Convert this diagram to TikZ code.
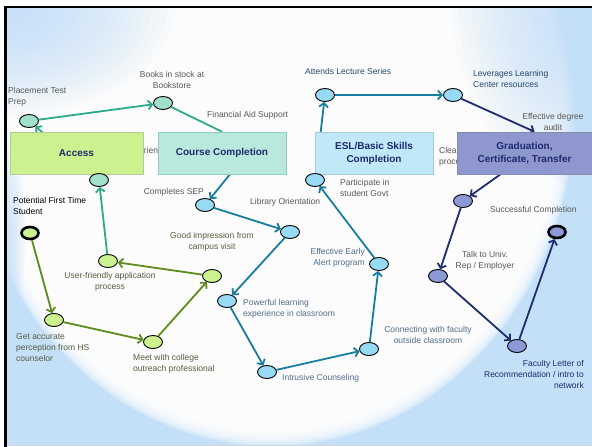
\documentclass[tikz,border=0pt]{standalone}
\usepackage{fontspec}
\setmainfont{Liberation Sans}
\usetikzlibrary{shapes.geometric,arrows.meta}
\definecolor{bgblue}{RGB}{196,224,248}
\definecolor{grnfill}{RGB}{204,242,143}
\definecolor{mintfill}{RGB}{160,224,204}
\definecolor{bluefill}{RGB}{150,218,244}
\definecolor{navyfill}{RGB}{140,152,216}
\definecolor{crsfill}{RGB}{185,232,220}
\definecolor{eslfill}{RGB}{192,232,248}
\definecolor{grdfill}{RGB}{143,152,206}
\definecolor{grnline}{RGB}{94,140,30}
\definecolor{tealline}{RGB}{45,170,140}
\definecolor{blueline}{RGB}{24,126,160}
\definecolor{navyline}{RGB}{31,45,110}
\definecolor{navytext}{RGB}{28,42,110}
\definecolor{greytext}{RGB}{88,88,88}
\definecolor{olivetext}{RGB}{84,92,62}
\definecolor{slatetext}{RGB}{36,72,110}
\tikzset{
    spot/.style={ellipse, draw, line width=0.9pt, minimum width=19pt,
    	minimum height=13pt, inner sep=0pt}
}
\tikzset{
    endspot/.style={line width=2.6pt, minimum width=17pt, minimum height=12pt}
}
\tikzset{
    stage/.style={rectangle, draw, line width=0.6pt, minimum height=42pt,
    	inner sep=2pt, align=center, text=navytext,
    	font=\fontsize{10}{13}\selectfont\bfseries}
}
\tikzset{
    lbl/.style={inner sep=0pt, text=greytext, font=\fontsize{8.5}{11}\selectfont}
}
\tikzset{
    flow/.style={draw=#1, line width=1.8pt,
    	-{Straight Barb[length=4pt,width=9pt]}}
}
\pgfdeclarelayer{background}
\pgfdeclarelayer{edges}
\pgfsetlayers{background,edges,main}

\begin{document}
\begin{tikzpicture}[x=1pt,y=-1pt]
	\useasboundingbox (0,0) rectangle (592,447);
	\begin{pgfonlayer}{background}
		\begin{scope}
			\clip (5,6) rectangle (592,445);
			\fill[bgblue] (5,6) rectangle (592,445);
			\foreach \k in {0,...,11}
				\fill[white, opacity=0.3] (272,112) ellipse ({302-2*\k} and {334-2*\k});
			\foreach \k in {0,...,19}
				\fill[bgblue, opacity=0.08] (5,6) ellipse ({170-8*\k} and {110-5*\k});
			\foreach \k in {0,...,19}
				\fill[bgblue, opacity=0.08] (592,6) ellipse ({140-6.5*\k} and {180-8.5*\k});
			\foreach \k in {0,...,9}
				\fill[bgblue, opacity=0.12] (5,240) ellipse ({20-1.8*\k} and {110-10*\k});
		\end{scope}
		\draw[black!15, line width=1pt] (5,445.5) -- (592,445.5);
		\draw[line width=2.5pt] (5.5,447) -- (5.5,7) -- (592,7);
	\end{pgfonlayer}

	\node[lbl, anchor=west] (orient) at (137,150) {Orientation};
	\node[lbl, anchor=west, align=left] (clear) at (439,157) {Clear goals\\process};

	\node[stage, fill=grnfill, draw=grnline!45, minimum width=133pt] (access) at (76.5,153) {Access};
	\node[stage, fill=crsfill, draw=tealline!55, minimum width=128pt] (course) at (222,153) {Course Completion};
	\node[stage, fill=eslfill, draw=blueline!40, minimum width=118pt] (esl) at (374,153) {ESL/Basic Skills\\Completion};
	\node[stage, fill=grdfill, draw=navyline!55, minimum width=135pt] (grad) at (524.5,153) {Graduation,\\Certificate, Transfer};

	\node[spot, endspot, fill=grnfill] (start) at (30,233) {};
	\node[spot, fill=grnfill] (hs) at (54,320) {};
	\node[spot, fill=grnfill] (meet) at (153,342) {};
	\node[spot, fill=grnfill] (visit) at (212,276) {};
	\node[spot, fill=grnfill] (app) at (108,261) {};
	\node[spot, fill=mintfill] (entry) at (99,180) {};
	\node[spot, fill=mintfill] (placement) at (29,121) {};
	\node[spot, fill=mintfill] (books) at (163,103) {};
	\node[spot, fill=bluefill] (sep) at (205,205) {};
	\node[spot, fill=bluefill] (library) at (290,232) {};
	\node[spot, fill=bluefill] (powerful) at (227,301) {};
	\node[spot, fill=bluefill] (intrusive) at (267,372) {};
	\node[spot, fill=bluefill] (faculty) at (369,349) {};
	\node[spot, fill=bluefill] (alert) at (379,264) {};
	\node[spot, fill=bluefill] (govt) at (315,180) {};
	\node[spot, fill=bluefill] (lecture) at (325,95) {};
	\node[spot, fill=bluefill] (learning) at (453,95) {};
	\node[spot, fill=navyfill] (audit) at (463,201) {};
	\node[spot, fill=navyfill] (univ) at (438,276) {};
	\node[spot, fill=navyfill] (letter) at (517,346) {};
	\node[spot, endspot, fill=navyfill] (success) at (557,232) {};

	\node[lbl, anchor=west, align=left] (l-placement) at (8,97) {Placement Test\\Prep};
	\node[lbl, align=center] (l-books) at (172,80) {Books in stock at\\Bookstore};
	\node[lbl, anchor=west] (l-aid) at (207,115) {Financial Aid Support};
	\node[lbl, anchor=west, align=left, text=black] (l-start) at (13,205.5) {Potential First Time\\Student};
	\node[lbl, anchor=west, align=left, text=olivetext] (l-hs) at (16,348) {Get accurate\\perception from HS\\counselor};
	\node[lbl, anchor=west, align=left, text=olivetext] (l-meet) at (133,364) {Meet with college\\outreach professional};
	\node[lbl, align=center, text=olivetext] (l-app) at (110,282) {User-friendly application\\process};
	\node[lbl, align=center, text=olivetext] (l-visit) at (212,242) {Good impression from\\campus visit};
	\node[lbl, anchor=east] (l-sep) at (204,192) {Completes SEP};
	\node[lbl, anchor=west] (l-library) at (250,202) {Library Orientation};
	\node[lbl, anchor=west, align=left, text=slatetext!80] (l-powerful) at (243,309) {Powerful learning\\experience in classroom};
	\node[lbl, anchor=west, text=slatetext!80] (l-intrusive) at (282,378) {Intrusive Counseling};
	\node[lbl, align=center, text=slatetext!80] (l-faculty) at (428,335) {Connecting with faculty\\outside classroom};
	\node[lbl, anchor=east, align=right, text=slatetext!80] (l-alert) at (365,258) {Effective Early\\Alert program};
	\node[lbl, anchor=west, align=left] (l-govt) at (340,187.5) {Participate in\\student Govt};
	\node[lbl, anchor=west, text=slatetext] (l-lecture) at (305,71) {Attends Lecture Series};
	\node[lbl, anchor=west, align=left, text=slatetext] (l-learning) at (473,78.5) {Leverages Learning\\Center resources};
	\node[lbl, align=center] (l-audit) at (553,121.5) {Effective degree\\audit};
	\node[lbl, anchor=west] (l-success) at (490,210) {Successful Completion};
	\node[lbl, align=center] (l-univ) at (485,261) {Talk to Univ.\\Rep / Employer};
	\node[lbl, anchor=east, align=right, text=navytext] (l-letter) at (584,374) {Faculty Letter of\\Recommendation / intro to\\network};

	\begin{pgfonlayer}{edges}
		\draw[flow=grnline] (start) edge (hs); \draw[flow=grnline] (hs) edge (meet);
		\draw[flow=grnline] (meet) edge (visit); \draw[flow=grnline] (visit) edge (app);
		\draw[flow=tealline] (app) edge (entry); \draw[flow=tealline] (entry) edge (placement);
		\draw[flow=tealline] (placement) edge (books);
		\draw[flow=tealline, -] (books) -- (course.north);
		\draw[flow=blueline] ([xshift=8pt]course.south) -- (sep);
		\draw[flow=blueline] (sep) edge (library); \draw[flow=blueline] (library) edge (powerful);
		\draw[flow=blueline] (powerful) edge (intrusive); \draw[flow=blueline] (intrusive) edge (faculty);
		\draw[flow=blueline] (faculty) edge (alert); \draw[flow=blueline] (alert) edge (govt);
		\draw[flow=blueline] (govt) edge (lecture); \draw[flow=blueline] (lecture) edge (learning);
		\draw[flow=navyline] (learning) -- ([xshift=10pt]grad.north);
		\draw[flow=navyline] ([xshift=-24pt]grad.south) -- (audit);
		\draw[flow=navyline] (audit) edge (univ); \draw[flow=navyline] (univ) edge (letter);
		\draw[flow=navyline] (letter) edge (success);
	\end{pgfonlayer}
\end{tikzpicture}
\end{document}
